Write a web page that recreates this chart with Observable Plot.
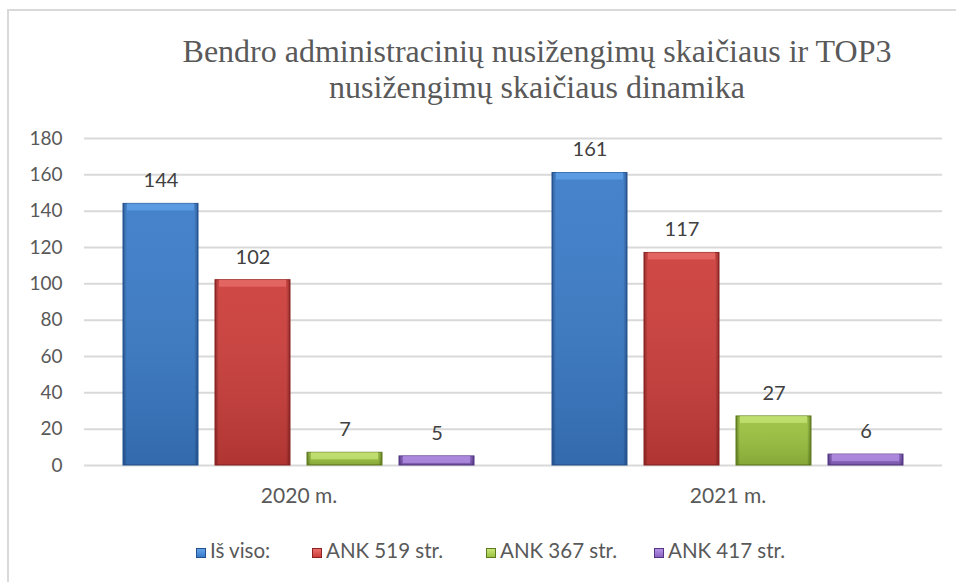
<!DOCTYPE html>
<html>
<head>
<meta charset="utf-8">
<script src="https://cdn.jsdelivr.net/npm/d3@7"></script>
<script src="https://cdn.jsdelivr.net/npm/@observablehq/plot@0.6"></script>
<style>
  html, body { margin: 0; padding: 0; background: #fff; }
  #page { position: relative; width: 956px; height: 582px; overflow: hidden; background: #fff; }
  #frame { position: absolute; left: 7px; top: 9px; width: 1000px; height: 700px;
           border-top: 2px solid #d9d9d9; border-left: 2px solid #d9d9d9; }
  #title { position: absolute; left: 137px; top: 33px; width: 800px; text-align: center;
           font-family: "Liberation Serif", "Times New Roman", serif; font-size: 32px;
           line-height: 36px; color: #595959; }
  #chart { position: absolute; left: 0; top: 110px; }
  #legend { position: absolute; left: 0; top: 538px; width: 956px; height: 24px;
            font-family: Lato, sans-serif; font-size: 20.5px; color: #595959; }
  .item { position: absolute; top: 0; white-space: nowrap; line-height: 24px; }
  .sw { display: inline-block; width: 10px; height: 10px; margin-right: 4px; vertical-align: 0px;
        box-sizing: border-box; border: 1px solid; }
</style>
</head>
<body>
<div id="page">
  <div id="frame"></div>
  <div id="title">Bendro administracinių nusižengimų skaičiaus ir TOP3<br>nusižengimų skaičiaus dinamika</div>
  <div id="chart"></div>
  <div id="legend"></div>
</div>
<script>
const years = ["2020 m.", "2021 m."];
const series = ["Iš viso:", "ANK 519 str.", "ANK 367 str.", "ANK 417 str."];
const values2020 = [144, 102, 7, 5];
const values2021 = [161, 117, 27, 6];
const yTicks = [0, 20, 40, 60, 80, 100, 120, 140, 160, 180];
const baseColors = ["#3a7bc8", "#cc3d3a", "#9bc23f", "#8a63c2"];
const lightColors = ["#63a3ea", "#ea6f6b", "#c8e579", "#b592e6"];
const darkColors = ["#24528f", "#8a2321", "#5e7b1f", "#533682"];
const legendLeft = [196, 312, 486, 654];

const valuesByYear = [values2020, values2021];
const data = years.flatMap((yr, i) => series.map((s, j) => ({year: yr, series: s, value: valuesByYear[i][j]})));

const marks = [Plot.ruleY(yTicks, {stroke: "#d9d9d9", strokeWidth: 2})];
series.forEach((s, j) => {
  const sub = data.filter(d => d.series === s);
  marks.push(Plot.barY(sub, {fx: "year", x: "series", y: "value", fill: `url(#hg${j})`, stroke: darkColors[j], strokeWidth: 1}));
  marks.push(Plot.barY(sub, {fx: "year", x: "series", y: "value", fill: "url(#vshade)", insetLeft: 1, insetRight: 1}));
  marks.push(Plot.barY(sub, {fx: "year", x: "series", y1: "value", y2: "value", insetBottom: -7, insetLeft: 4, insetRight: 4, fill: lightColors[j], fillOpacity: 0.75}));
});
marks.push(Plot.text(data, {fx: "year", x: "series", y: "value", text: d => String(d.value), dy: -23,
  fontSize: 20, fill: "#404040", fontFamily: "Lato"}));

const svg = Plot.plot({
  width: 956, height: 400,
  marginLeft: 84, marginRight: 14, marginTop: 28, marginBottom: 45,
  style: {fontFamily: "Lato, sans-serif", fontSize: "19px", color: "#595959", background: "transparent"},
  fx: {domain: years, padding: 0, label: null, tickSize: 0, tickPadding: 23, axis: "bottom"},
  x: {domain: series, axis: null, paddingInner: 0.18, paddingOuter: 0.4},
  y: {domain: [0, 180], ticks: yTicks, tickSize: 0, tickPadding: 22, label: null},
  marks
});

const s = d3.select(svg);
const defs = s.insert("defs", ":first-child");
baseColors.forEach((c, j) => {
  const g = defs.append("linearGradient").attr("id", `hg${j}`).attr("x1", 0).attr("y1", 0).attr("x2", 1).attr("y2", 0);
  [[0, darkColors[j]], [0.05, c], [0.5, c], [0.95, c], [1, darkColors[j]]].forEach(([o, col]) =>
    g.append("stop").attr("offset", o).attr("stop-color", col));
});
const vg = defs.append("linearGradient").attr("id", "vshade").attr("x1", 0).attr("y1", 0).attr("x2", 0).attr("y2", 1);
vg.append("stop").attr("offset", 0).attr("stop-color", "#fff").attr("stop-opacity", 0.06);
vg.append("stop").attr("offset", 1).attr("stop-color", "#000").attr("stop-opacity", 0.14);
s.selectAll('g[aria-label^="fx-axis"] text').style("font-size", "21px");
s.selectAll('g[aria-label^="y-axis"] text').style("font-size", "19px");
document.getElementById("chart").appendChild(svg);

const legend = d3.select("#legend");
series.forEach((name, j) => {
  const it = legend.append("div").attr("class", "item").style("left", legendLeft[j] + "px");
  it.append("span").attr("class", "sw")
    .style("background", `linear-gradient(${lightColors[j]}, ${baseColors[j]})`)
    .style("border-color", darkColors[j]);
  it.append("span").text(name);
});
</script>
</body>
</html>
